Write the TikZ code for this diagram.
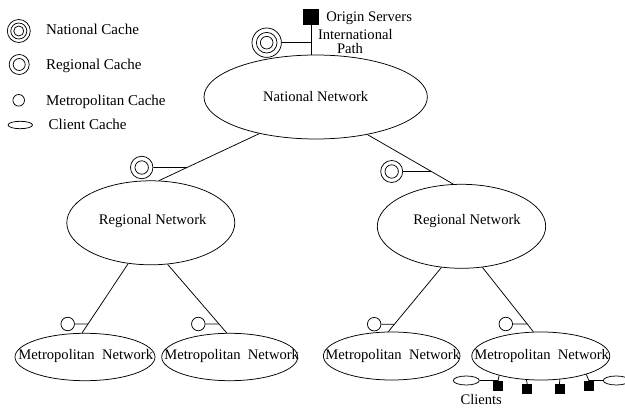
\documentclass[tikz,border=0pt]{standalone}
\usepackage{fontspec}
\setmainfont{Liberation Serif}
\usetikzlibrary{shapes.geometric,calc}
\begin{document}
\begin{tikzpicture}[x=1pt,y=-1pt, line width=0.75pt,
  net/.style={ellipse, draw, inner sep=0pt},
  txt/.style={inner sep=0pt, font=\fontsize{14.6}{17}\selectfont},
  leg/.style={inner sep=0pt, anchor=base west, font=\fontsize{15}{18}\selectfont},
  ring/.style={circle, draw, inner sep=0pt},
  srv/.style={rectangle, draw, fill=black, inner sep=0pt},
]
\useasboundingbox (0,0) rectangle (625,409);
\clip (0,0) rectangle (625,409);

% legend
\node[ring, minimum size=23pt] (lnat) at (18.8,31) {};
\draw (lnat.center) circle (8pt) circle (5pt);
\node[ring, minimum size=20pt] (lreg) at (19.2,64.5) {};
\draw (lreg.center) circle (6pt);
\node[ring, minimum size=11.6pt] (lmet) at (18.7,100.3) {};
\node[net, minimum width=24.4pt, minimum height=7.4pt] (lcl) at (20.3,125) {};
\node[leg] (tlnat) at (45.7,34.3) {National Cache};
\node[leg] (tlreg) at (45.7,70) {Regional Cache};
\node[leg] (tlmet) at (45.7,105.3) {Metropolitan Cache};
\node[leg] (tlcl) at (48.3,130) {Client Cache};

% networks
\node[net, minimum width=223.4pt, minimum height=84pt] (nat) at (315.7,97) {};
\node[net, minimum width=168pt, minimum height=84pt] (rl) at (150.8,222.8) {};
\node[net, minimum width=168.4pt, minimum height=84pt] (rr) at (461.5,226.3) {};
\node[net, minimum width=140pt, minimum height=47.4pt] (m1) at (85,357) {};
\node[net, minimum width=136pt, minimum height=47.4pt] (m2) at (229.7,357) {};
\node[net, minimum width=136.6pt, minimum height=48pt] (m3) at (391.7,356) {};
\node[net, minimum width=138pt, minimum height=48pt] (m4) at (540.8,356) {};

\node[txt, anchor=base] (tnat) at (315.7,101.7) {National Network};
\node[txt, anchor=base] (trl) at (152.7,225) {Regional Network};
\node[txt, anchor=base] (trr) at (467,225) {Regional Network};
\node[txt, anchor=base] (tm1) at (85.8,359.5) {Metropolitan\ \ Network};
\node[txt, anchor=base] (tm2) at (231.7,359.5) {Metropolitan\ \ Network};
\node[txt, anchor=base] (tm3) at (392.8,359.5) {Metropolitan\ \ Network};
\node[txt, anchor=base] (tm4) at (541.7,359.5) {Metropolitan\ \ Network};

% origin servers
\node[srv, minimum size=15pt] (os) at (311.2,16.8) {};
\node[txt, anchor=base west] (tos) at (326,21.7) {Origin Servers};
\node[txt, anchor=base] (tint) at (355.3,39.3) {International};
\node[txt, anchor=base] (tpath) at (350,53.3) {Path};

% cache icons
\node[ring, minimum size=29.4pt] (ni) at (266.7,42.7) {};
\draw (ni.center) circle (10.3pt) circle (6.3pt);
\node[ring, minimum size=22.5pt] (ri1) at (141.7,167.5) {};
\draw (ri1.center) circle (6.7pt);
\node[ring, minimum size=22pt] (ri2) at (391.7,171.5) {};
\draw (ri2.center) circle (6.7pt);
\node[ring, minimum size=13.5pt] (mi1) at (67.7,324) {};
\node[ring, minimum size=13.5pt] (mi2) at (198.3,324) {};
\node[ring, minimum size=13.5pt] (mi3) at (374.2,324.2) {};
\node[ring, minimum size=13.5pt] (mi4) at (505.8,324) {};

% clients
\node[srv, minimum size=9pt] (c1) at (498,386) {};
\node[srv, minimum size=9pt] (c2) at (527.2,389) {};
\node[srv, minimum size=9pt] (c3) at (559.5,389) {};
\node[srv, minimum size=9pt] (c4) at (589,386) {};
\node[net, minimum width=26pt, minimum height=9pt] (cl1) at (466.3,380.5) {};
\node[net, minimum width=26pt, minimum height=9pt] (cl2) at (616.3,380.5) {};
\node[txt, anchor=base] (tcl) at (481.2,404.5) {Clients};

% connectors
\draw (os.south) -- (os.south |- nat.north);
\draw (ni.east) -- (ni.east -| os.south);
\draw (nat.213) -- (rl.79.8);
\draw (nat.324.7) -- (rr.101);
\draw (ri1.east) -- (intersection of nat.213--rl.79.8 and ri1.east--ri1.west);
\draw (ri2.east) -- (intersection of nat.324.7--rr.101 and ri2.east--ri2.west);
\draw (rl.241.9) -- (m1.97.9);
\draw (rl.292.5) -- (m2.97.2);
\draw (rr.244.6) -- (m3.98.1);
\draw (rr.297.6) -- (m4.107.4);
\draw (mi1.east) -- (intersection of rl.241.9--m1.97.9 and mi1.east--mi1.west);
\draw (mi2.east) -- (intersection of rl.292.5--m2.97.2 and mi2.east--mi2.west);
\draw (mi3.east) -- (intersection of rr.244.6--m3.98.1 and mi3.east--mi3.west);
\draw (mi4.east) -- (intersection of rr.297.6--m4.107.4 and mi4.east--mi4.west);
\draw (m4.205.4) -- (c1.north);
\draw (m4.239.9) -- (c2.north);
\draw (m4.309) -- (c3.north);
\draw (m4.338.9) -- (c4.north);
\draw (cl1.east) -- (cl1.east -| c1.north);
\draw (cl2.west) -- (cl2.west -| c4.north);
\end{tikzpicture}
\end{document}
